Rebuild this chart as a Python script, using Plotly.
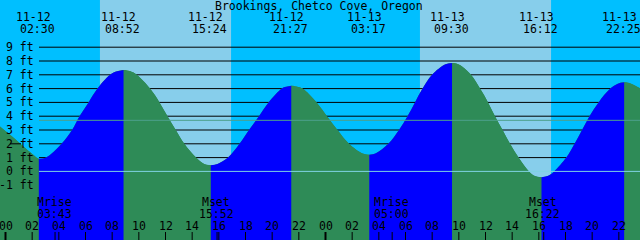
import plotly.graph_objects as go

# ---------------- data ----------------
title = "Brookings, Chetco Cove, Oregon"

# tide extremes (date label, time label, level in ft)
ext_date = ["11-12", "11-12", "11-12", "11-12", "11-13", "11-13", "11-13", "11-13"]
ext_time = ["02:30", "08:52", "15:24", "21:27", "03:17", "09:30", "16:12", "22:25"]
ext_ft = [0.91, 7.35, 0.44, 6.21, 1.21, 7.86, -0.43, 6.46]

# tide curve samples (hours after 11-12 00:00, level ft)
curve_hours = [-0.5, 0.34, 1.09, 1.84, 2.29, 2.5,
               3.04, 4.20, 4.99, 5.55, 6.23, 6.90, 7.84, 8.37, 8.867,
               9.37, 9.84, 10.84, 11.55, 12.15, 12.77, 13.41, 14.29, 14.9, 15.4,
               15.9, 16.69, 17.55, 18.26, 19.01, 19.73, 20.72, 20.95, 21.45,
               21.95, 22.28, 23.33, 24.11, 24.90, 25.76, 26.78, 27.283,
               27.78, 28.71, 29.51, 30.15, 30.71, 31.28, 31.99, 33.0, 33.5,
               34.0, 34.91, 35.59, 36.19, 36.71, 37.28, 37.84, 38.48, 39.26, 39.7, 40.2,
               40.7, 41.15, 42.06, 42.68, 43.24, 43.80, 44.48, 45.36, 45.92, 46.417,
               46.92, 47.59, 47.8]
curve_ft = [3.33, 2.65, 2.03, 1.40, 1.03, 0.91,
            1.0, 2.0, 3.0, 4.0, 5.0, 6.0, 7.0, 7.25, 7.35,
            7.25, 7.0, 6.0, 5.0, 4.0, 3.0, 2.0, 1.0, 0.54, 0.44,
            0.54, 1.0, 2.0, 3.0, 4.0, 5.0, 6.0, 6.11, 6.21,
            6.12, 6.0, 5.0, 4.0, 3.0, 2.0, 1.30, 1.21,
            1.31, 2.0, 3.0, 4.0, 5.0, 6.0, 7.0, 7.76, 7.86,
            7.75, 7.0, 6.0, 5.0, 4.0, 3.0, 2.0, 1.0, 0.0, -0.33, -0.43,
            -0.32, 0.0, 1.0, 2.0, 3.0, 4.0, 5.0, 6.0, 6.36, 6.46,
            6.36, 6.02, 5.88]

# daylight (sunrise / sunset)
sun_day = [12, 13]
sunrise = ["07:05", "07:05"]
sunset = ["16:55", "16:55"]

# moon events
moon_label = ["Mrise", "Mset", "Mrise", "Mset"]
moon_day = [12, 12, 13, 13]
moon_time = ["03:43", "15:52", "05:00", "16:22"]

ft_ticks = [-1, 0, 1, 2, 3, 4, 5, 6, 7, 8, 9]
ft_labels = ["-1 ft", "0 ft", "1 ft", "2 ft", "3 ft", "4 ft", "5 ft", "6 ft", "7 ft", "8 ft", "9 ft"]
hour_ticks = list(range(0, 50, 2))
hour_labels = ["00", "02", "04", "06", "08", "10", "12", "14", "16", "18", "20", "22",
               "00", "02", "04", "06", "08", "10", "12", "14", "16", "18", "20", "22", "00"]
mean_ft = 3.70
mark_ft = 2.0

# ---------------- styles ----------------
NIGHT = "#00BFFF"
DAY = "#87CEEB"
RISE = "#0000FF"
FALL = "#2E8B57"
ZERO_C = "#7FD3E3"
MEAN_C = "#4CA08C"
FONT = dict(family="DejaVu Sans Mono", size=11.5, color="black")
W, H = 640, 240
BOTTOM = -8.0


def hrs(day, hhmm):
    h, m = hhmm.split(":")
    return (day - 12) * 24 + int(h) + int(m) / 60.0


ext_day = [int(d.split("-")[1]) for d in ext_date]
ext_hours = [hrs(d, t) for d, t in zip(ext_day, ext_time)]

# split curve at extremes
split_idx = [min(range(len(curve_hours)), key=lambda i: abs(curve_hours[i] - eh)) for eh in ext_hours]
bounds = [0] + split_idx + [len(curve_hours) - 1]

fig = go.Figure()


def add_fill(xs, ys, color):
    fig.add_trace(go.Scatter(x=[xs[0], xs[-1]], y=[BOTTOM, BOTTOM], mode="lines",
                             line=dict(width=0), hoverinfo="skip", showlegend=False))
    fig.add_trace(go.Scatter(x=xs, y=ys, mode="lines", fill="tonexty", fillcolor=color,
                             line=dict(width=0, shape="spline", smoothing=1.0),
                             hoverinfo="skip", showlegend=False))


# underlay
add_fill(curve_hours, curve_ft, FALL)
for k in range(len(bounds) - 1):
    a, b = bounds[k], bounds[k + 1]
    xs = curve_hours[a:b + 1]
    ys = curve_ft[a:b + 1]
    rising = ys[-1] > ys[0]
    add_fill(xs, ys, RISE if rising else FALL)

shapes = []
for d, sr, ss in zip(sun_day, sunrise, sunset):
    shapes.append(dict(type="rect", xref="x", yref="paper", x0=hrs(d, sr), x1=hrs(d, ss),
                       y0=0, y1=1, fillcolor=DAY, line=dict(width=0), layer="below"))
for f in ft_ticks:
    if f == 0:
        continue
    shapes.append(dict(type="line", xref="paper", yref="y", x0=39 / W, x1=1, y0=f, y1=f,
                       line=dict(color="black", width=1), layer="below"))
shapes.append(dict(type="line", xref="paper", yref="y", x0=39 / W, x1=1, y0=0, y1=0,
                   line=dict(color=ZERO_C, width=1), layer="above"))
shapes.append(dict(type="line", xref="paper", yref="y", x0=39 / W, x1=1, y0=mean_ft, y1=mean_ft,
                   line=dict(color=MEAN_C, width=1), layer="above"))
shapes.append(dict(type="line", xref="paper", yref="y", x0=10 / W, x1=21 / W, y0=mark_ft, y1=mark_ft,
                   line=dict(color="black", width=1), layer="above"))
for h in hour_ticks:
    shapes.append(dict(type="line", xref="x", yref="paper", x0=h, x1=h, y0=0, y1=8 / H,
                       line=dict(color="black", width=2 if h % 24 == 0 else 1), layer="above"))
for d, t in zip(moon_day, moon_time):
    x = hrs(d, t)
    shapes.append(dict(type="line", xref="x", yref="paper", x0=x, x1=x, y0=0, y1=8 / H,
                       line=dict(color="black", width=1), layer="above"))

ann = []


def py(px):
    return 1 - px / H


ann.append(dict(text=title, xref="paper", yref="paper", x=319 / W, y=py(6), showarrow=False,
                xanchor="center", yanchor="middle", font=FONT))
for dlab, tlab, x in zip(ext_date, ext_time, ext_hours):
    ann.append(dict(text=dlab, xref="x", yref="paper", x=x, y=py(17.5), xshift=-5, showarrow=False,
                    xanchor="center", yanchor="middle", font=FONT))
    ann.append(dict(text=tlab, xref="x", yref="paper", x=x, y=py(29.2), xshift=-1, showarrow=False,
                    xanchor="center", yanchor="middle", font=FONT))
for f, lab in zip(ft_ticks, ft_labels):
    ann.append(dict(text=lab, xref="paper", yref="y", x=36 / W, y=f, showarrow=False,
                    xanchor="right", yanchor="middle", font=FONT))
for h, lab in zip(hour_ticks, hour_labels):
    ann.append(dict(text=lab, xref="x", yref="paper", x=h, y=py(226), showarrow=False,
                    xanchor="center", yanchor="middle", font=FONT))
for lab, d, t in zip(moon_label, moon_day, moon_time):
    x = hrs(d, t)
    ann.append(dict(text=lab, xref="x", yref="paper", x=x, y=py(202), xshift=-1, showarrow=False,
                    xanchor="center", yanchor="middle", font=FONT))
    ann.append(dict(text=t, xref="x", yref="paper", x=x, y=py(214), xshift=-1, showarrow=False,
                    xanchor="center", yanchor="middle", font=FONT))

px_per_h = 40 / 3.0
x0 = -5.5 / px_per_h
x1 = (W - 5.5) / px_per_h
zero_px, px_per_ft = 171.4, 13.8
y1 = zero_px / px_per_ft
y0 = (zero_px - H) / px_per_ft

fig.update_layout(
    width=W, height=H, margin=dict(l=0, r=0, t=0, b=0),
    paper_bgcolor=NIGHT, plot_bgcolor=NIGHT, showlegend=False,
    xaxis=dict(range=[x0, x1], visible=False, fixedrange=True),
    yaxis=dict(range=[y0, y1], visible=False, fixedrange=True),
    shapes=shapes, annotations=ann,
)
fig.write_html("out.html")
